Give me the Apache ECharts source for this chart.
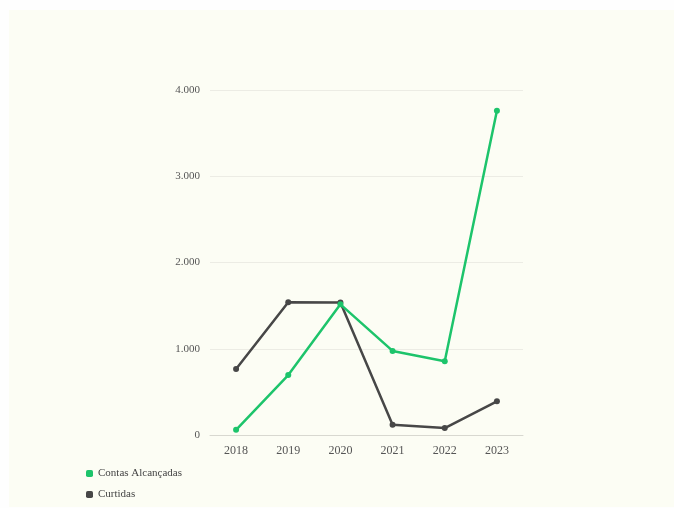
<!DOCTYPE html>
<html>
<head>
<meta charset="utf-8">
<script src="https://cdn.jsdelivr.net/npm/echarts@6/dist/echarts.min.js"></script>
<style>
  html, body { margin: 0; padding: 0; background: #fefefe; }
  #chart { position: absolute; left: 9px; top: 10px; width: 665px; height: 497px; }
</style>
</head>
<body>
<div id="chart"></div>
<script>
// dados do gráfico
var anos = ['2018', '2019', '2020', '2021', '2022', '2023'];
var contasAlcancadas = [60, 695, 1515, 975, 855, 3760];
var curtidas = [765, 1540, 1535, 120, 80, 390];

var myChart = echarts.init(document.getElementById('chart'));

var fonte = '"Liberation Serif", "DejaVu Serif", serif';

myChart.setOption({
    backgroundColor: '#fcfdf4',
    textStyle: { fontFamily: fonte },
    grid: { left: 201, right: 151, top: 80, bottom: 72 },
    legend: {
        orient: 'vertical',
        left: 77,
        top: 458,
        height: 39,
        padding: 0,
        itemWidth: 7,
        itemHeight: 7,
        itemGap: 10,
        icon: 'roundRect',
        textStyle: { fontFamily: fonte, fontSize: 11, color: '#444' },
        data: ['Contas Alcançadas', 'Curtidas']
    },
    xAxis: {
        type: 'category',
        data: anos,
        boundaryGap: true,
        axisLine: { lineStyle: { color: '#d8d8d0' } },
        axisTick: { show: false },
        axisLabel: { fontFamily: fonte, fontSize: 12, color: '#555', margin: 10 }
    },
    yAxis: {
        type: 'value',
        min: 0,
        max: 4000,
        interval: 1000,
        splitLine: { lineStyle: { color: '#ecece4' } },
        axisLabel: {
            fontFamily: fonte,
            fontSize: 11,
            color: '#555',
            margin: 10,
            formatter: function (v) { return v.toLocaleString('pt-BR'); }
        }
    },
    series: [
        {
            name: 'Contas Alcançadas',
            type: 'line',
            data: contasAlcancadas,
            symbol: 'circle',
            symbolSize: 6,
            lineStyle: { width: 2.5, color: '#1dc46b' },
            itemStyle: { color: '#1dc46b' },
            z: 3
        },
        {
            name: 'Curtidas',
            type: 'line',
            data: curtidas,
            symbol: 'circle',
            symbolSize: 6,
            lineStyle: { width: 2.5, color: '#474747' },
            itemStyle: { color: '#474747' },
            z: 2
        }
    ]
});
</script>
</body>
</html>
